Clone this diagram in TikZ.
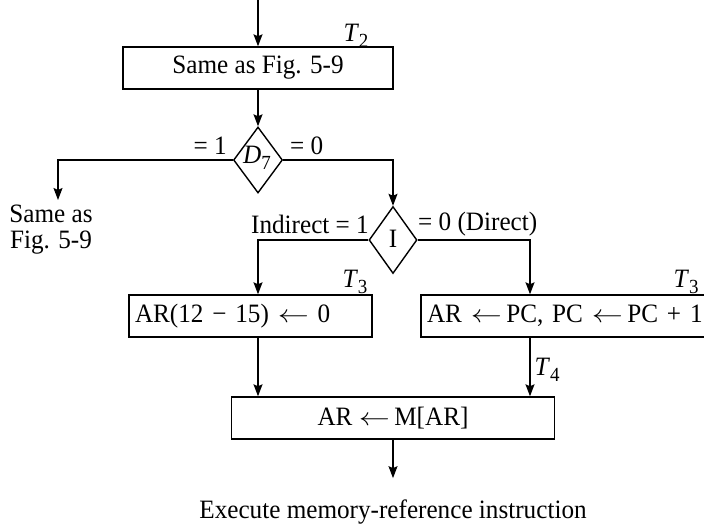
\documentclass[tikz,border=0pt]{standalone}
\usepackage{fontspec}
\setmainfont[FakeStretch=0.95]{Liberation Serif}
\usetikzlibrary{shapes.geometric,arrows.meta,calc}
\newcommand{\mysub}[1]{\raisebox{-0.45ex}{\fontsize{20}{20}\selectfont #1}}
\newcommand{\myarr}{\scalebox{1.25}[1]{$\leftarrow$}}
\begin{document}
\begin{tikzpicture}[x=1pt,y=-1pt,
  every node/.style={font=\fontsize{26.5}{23}\selectfont},
  flow/.style={draw, line width=1.4pt, -{Stealth[length=12pt,width=9pt,inset=2pt]}},
  box/.style={draw, line width=1.4pt, rectangle, minimum height=42pt, inner sep=0pt},
  lbox/.style={box, inner xsep=6pt, align=left},
  dia/.style={draw, line width=1.4pt, diamond, inner sep=0pt},
  lbl/.style={inner sep=0pt}]
\useasboundingbox (0,0) rectangle (704,527);
\coordinate (top) at (258,0);
\node[box, minimum width=270pt] (b1) at (258,68) {Same as Fig. 5-9};
\node[lbl] (t2) at (356,36) {\textit{T}\mysub{2}};
\node[dia, minimum width=49pt, minimum height=66pt] (d7) at (258,160) {};
\node[lbl] (d7t) at (257,158) {\textit{D}\mysub{7}};
\node[lbl, anchor=east] (eq1) at (227,146) {= 1};
\node[lbl, anchor=west] (eq0) at (290,146) {= 0};
\coordinate (samein) at (58,200);
\node[lbl, anchor=base] (same1) at (51,222) {Same as};
\node[lbl, anchor=base] (same2) at (51,248) {Fig. 5-9};
\node[dia, minimum width=48pt, minimum height=67pt] (id) at (393,240) {};
\node[lbl] (idt) at (393,239) {I};
\node[lbl, anchor=east] (ind) at (369,224) {Indirect = 1};
\node[lbl, anchor=west] (dir) at (418,224) {= 0 (Direct)};
\node[lbl] (t3a) at (355,282) {\textit{T}\mysub{3}};
\node[lbl] (t3b) at (686,282) {\textit{T}\mysub{3}};
\node[lbox, text width=231pt] (lb) at (250.5,316) {AR(12 − 15) \myarr{} 0};
\node[lbox, text width=279pt] (rb) at (566.5,316) {AR \myarr\,PC, PC \myarr\,PC + 1};
\node[lbl] (t4) at (547,370) {\textit{T}\mysub{4}};
\node[box, minimum width=323pt] (bb) at (393,418) {AR \myarr\,M[AR]};
\node[lbl, anchor=base] (exec) at (393,518) {Execute memory-reference instruction};
\draw[flow] (top) -- (b1.north);
\draw[flow] (b1.south) -- (d7.north);
\draw[flow] (d7.west) -| (samein);
\draw[flow] (d7.east) -| (id.north);
\draw[flow] (id.west) -| ([xshift=7.5pt]lb.north);
\draw[flow] (id.east) -| ([xshift=-36.5pt]rb.north);
\draw[flow] ([xshift=7.5pt]lb.south) -- ([xshift=7.5pt]lb.south |- bb.north);
\draw[flow] ([xshift=-36.5pt]rb.south) -- ([xshift=-36.5pt]rb.south |- bb.north);
\draw[flow] (bb.south) -- ([yshift=21pt]exec.north);
\end{tikzpicture}
\end{document}
